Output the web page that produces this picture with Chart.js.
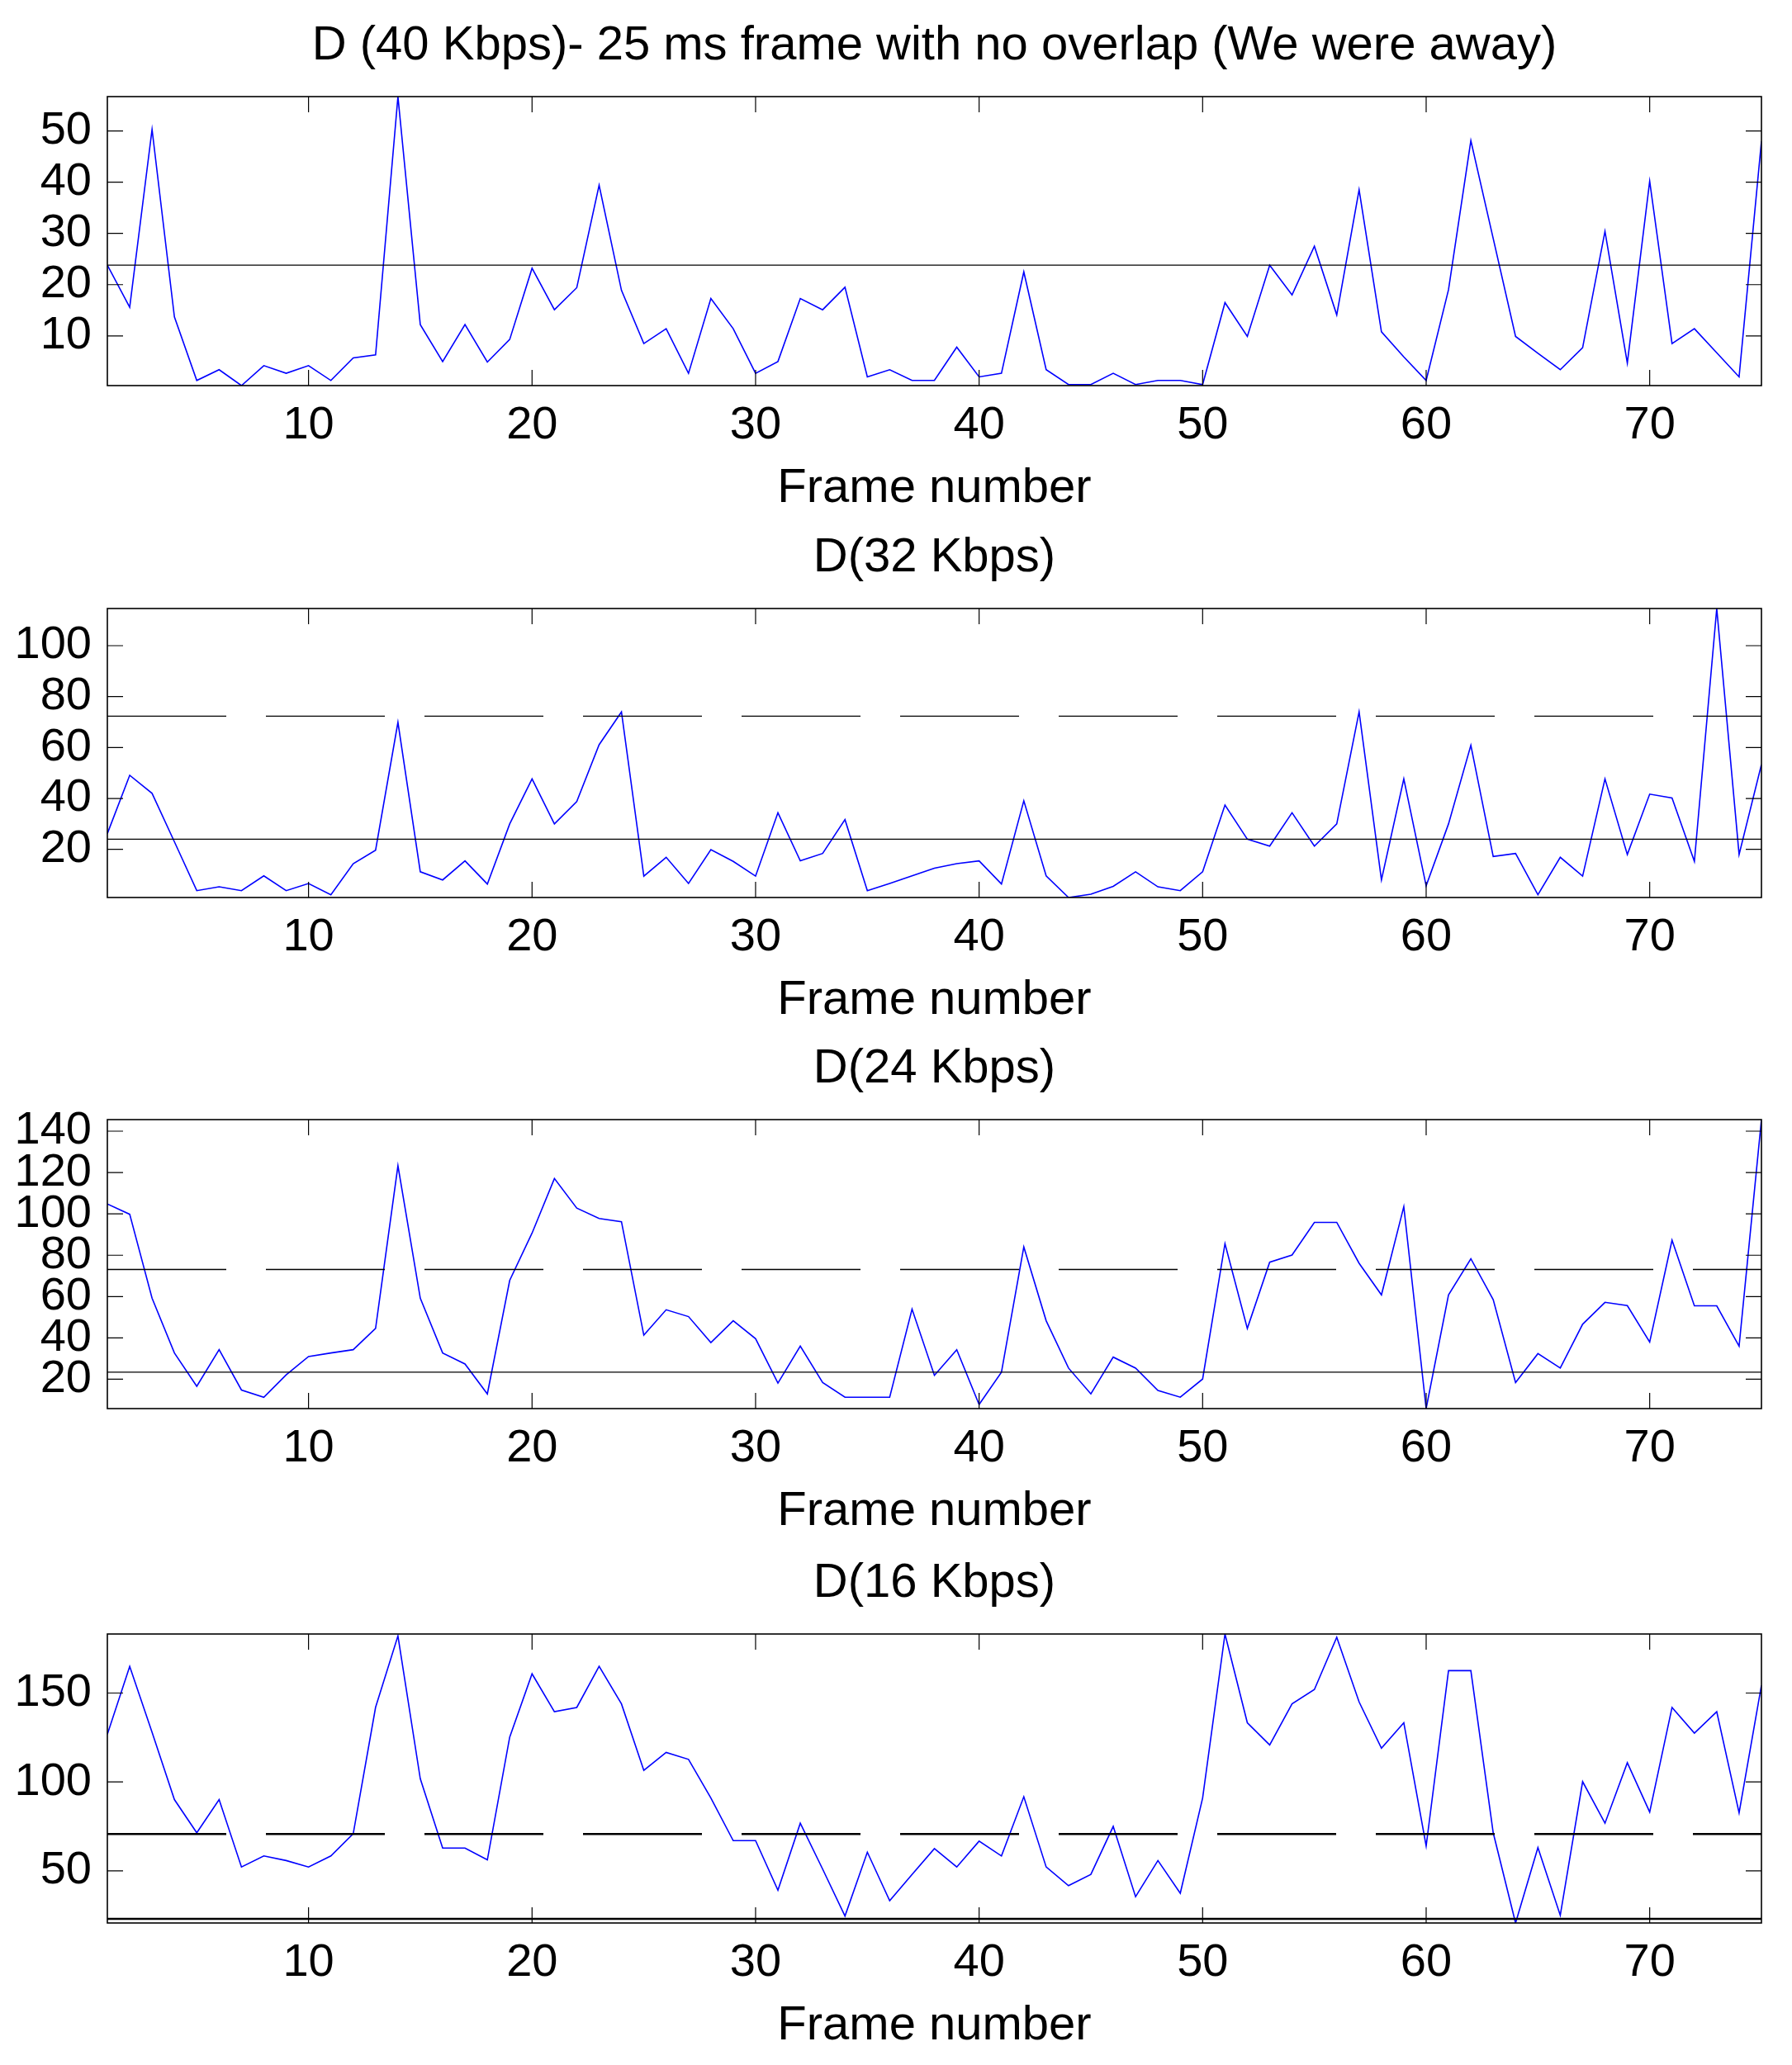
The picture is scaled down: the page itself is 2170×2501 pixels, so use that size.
<!DOCTYPE html>
<html><head><meta charset="utf-8">
<script src="https://cdn.jsdelivr.net/npm/chart.js@4"></script>
<style>
html,body{margin:0;padding:0;background:#fff;overflow:hidden;width:2170px;height:2501px;}
.panel{position:absolute;left:0;width:2170px;height:640px;}
</style></head><body>
<div class="panel" style="top:0px"><canvas id="c0" width="2170" height="640"></canvas></div>
<div class="panel" style="top:620px"><canvas id="c1" width="2170" height="640"></canvas></div>
<div class="panel" style="top:1239px"><canvas id="c2" width="2170" height="640"></canvas></div>
<div class="panel" style="top:1862px"><canvas id="c3" width="2170" height="640"></canvas></div>
<script>
const frames = [1,2,3,4,5,6,7,8,9,10,11,12,13,14,15,16,17,18,19,20,21,22,23,24,25,26,27,28,29,30,31,32,33,34,35,36,37,38,39,40,41,42,43,44,45,46,47,48,49,50,51,52,53,54,55,56,57,58,59,60,61,62,63,64,65,66,67,68,69,70,71,72,73,74,75];

const d40 = [23.8,15.6,50.3,13.7,1.3,3.4,0.3,4.2,2.7,4.2,1.3,5.7,6.3,56.7,12.2,5.0,12.2,4.9,9.3,23.2,15.1,19.4,39.4,18.9,8.5,11.4,2.7,17.3,11.4,2.7,5.0,17.3,15.1,19.5,2.0,3.4,1.3,1.3,7.8,2.0,2.7,22.5,3.4,0.5,0.5,2.7,0.5,1.3,1.3,0.5,16.5,9.9,23.8,18.0,27.5,14.1,38.5,10.8,5.9,1.3,19.0,48.1,29.0,9.9,6.6,3.4,7.7,30.4,4.7,40.2,8.5,11.4,6.7,2.0,48.0];

const d32 = [26.2,49.1,42.0,23.0,3.8,5.3,3.8,9.6,3.8,6.6,2.2,14.4,19.7,69.9,11.2,8.0,15.5,6.4,30.0,47.7,30.0,38.8,61.1,74.0,9.5,16.9,6.6,19.9,15.3,9.5,34.4,15.5,18.4,31.7,3.8,6.6,9.6,12.6,14.4,15.5,6.4,39.1,9.6,1.1,2.4,5.5,11.2,5.3,3.8,11.2,37.4,24.0,21.3,34.4,21.3,30.0,74.0,8.0,47.7,5.7,30.0,60.9,17.2,18.4,2.2,16.9,9.5,47.7,18.0,41.7,40.2,15.3,114.6,18.0,53.3];

const d24 = [104.8,99.8,59.2,32.7,16.6,34.3,14.8,11.3,22.1,31.0,32.7,34.3,44.6,123.3,59.2,32.7,27.4,12.9,67.8,90.7,117.1,102.8,97.8,96.2,41.3,53.6,50.3,37.7,48.3,39.6,18.1,36.0,18.4,11.3,11.3,11.3,53.9,21.9,34.3,7.8,23.4,84.0,48.3,25.4,12.9,30.7,25.4,14.6,11.3,20.1,85.6,44.6,76.6,80.1,95.9,95.9,76.1,60.8,103.5,5.8,60.8,78.3,58.5,18.4,32.4,25.4,46.6,57.2,55.6,38.0,87.3,55.5,55.5,36.0,145.6];

const d16 = [126.8,165.0,128.0,90.1,71.4,90.1,52.2,58.4,55.8,52.2,58.4,70.9,142.0,182.1,101.8,62.8,62.8,56.2,125.2,160.8,139.5,141.9,165.0,143.9,106.5,116.6,112.7,91.0,67.0,67.0,39.1,76.8,51.0,24.6,60.5,33.2,48.0,62.5,52.2,66.7,58.4,91.7,52.2,41.7,48.0,75.0,35.5,55.8,37.4,91.0,183.2,133.3,120.8,143.9,152.0,181.4,145.0,119.0,133.3,64.0,162.6,162.6,71.4,20.7,63.1,25.0,100.2,76.8,110.8,83.1,141.9,127.5,139.5,82.6,154.4];

const panelTitles = ['D (40 Kbps)- 25 ms frame with no overlap (We were away)','D(32 Kbps)','D(24 Kbps)','D(16 Kbps)'];
const xAxisTitle = 'Frame number';
const xTicks = [10,20,30,40,50,60,70];
const yTicks = [[10,20,30,40,50],[20,40,60,80,100],[20,40,60,80,100,120,140],[50,100,150]];
const meanLevels = [23.8,24.0,23.4,23.0];
const upperLevels = [null,72.3,73.1,70.7];
const seriesList = [d40,d32,d24,d16];

Chart.defaults.font.family = "'Liberation Sans', Arial, Helvetica, sans-serif";
Chart.defaults.color = '#000';

const boxTicks = {
  id: 'boxTicks',
  afterDraw(chart) {
    const {ctx, chartArea: a, scales: {x, y}} = chart;
    const L = 19;
    ctx.save();
    ctx.strokeStyle = '#000';
    ctx.lineWidth = 1.2;
    ctx.beginPath();
    x.ticks.forEach(t => {
      const px = x.getPixelForValue(t.value);
      ctx.moveTo(px, a.bottom); ctx.lineTo(px, a.bottom - L);
      ctx.moveTo(px, a.top); ctx.lineTo(px, a.top + L);
    });
    y.ticks.forEach(t => {
      const py = y.getPixelForValue(t.value);
      ctx.moveTo(a.left, py); ctx.lineTo(a.left + L, py);
      ctx.moveTo(a.right, py); ctx.lineTo(a.right - L, py);
    });
    ctx.stroke();
    ctx.lineWidth = 1.6;
    ctx.strokeRect(a.left, a.top, a.right - a.left, a.bottom - a.top);
    ctx.restore();
  }
};

seriesList.forEach((vals, i) => {
  const first = frames[0], last = frames[frames.length - 1];
  const datasets = [{
    data: frames.map((f, k) => ({x: f, y: vals[k]})),
    borderColor: '#0000ff', borderWidth: 1.6, pointRadius: 0, tension: 0, order: 2
  }, {
    data: [{x: first, y: meanLevels[i]}, {x: last, y: meanLevels[i]}],
    borderColor: '#000', borderWidth: i === 3 ? 2.6 : 1.3, pointRadius: 0, order: 1
  }];
  if (upperLevels[i] !== null) {
    datasets.push({
      data: [{x: first, y: upperLevels[i]}, {x: last, y: upperLevels[i]}],
      borderColor: '#000', borderWidth: i === 3 ? 2.6 : 1.3, borderDash: [144, 48], pointRadius: 0, order: 1
    });
  }
  new Chart(document.getElementById('c' + i), {
    type: 'line',
    data: {datasets},
    plugins: [boxTicks],
    options: {
      responsive: false, animation: false, devicePixelRatio: 1,
      layout: {padding: {left: 0, right: 37, top: 0, bottom: 20.7}},
      plugins: {
        legend: {display: false}, tooltip: {enabled: false},
        title: {display: true, text: panelTitles[i], color: '#000', fullSize: false,
          font: {size: 58, weight: 'normal', lineHeight: 1.2}, padding: {top: 21.2, bottom: 26.2}}
      },
      scales: {
        x: {
          type: 'linear', min: first, max: last,
          grid: {display: false, drawTicks: false}, border: {display: false},
          afterBuildTicks(s) { s.ticks = xTicks.map(v => ({value: v})); },
          ticks: {padding: 15, color: '#000',
            font: {size: 56, lineHeight: 1.2}, maxRotation: 0, autoSkip: false},
          title: {display: true, text: xAxisTitle, color: '#000',
            font: {size: 58, lineHeight: 0.95}, padding: {top: 0, bottom: 0}}
        },
        y: {
          min: Math.min(...vals), max: Math.max(...vals),
          grid: {display: false, drawTicks: false}, border: {display: false},
          afterBuildTicks(s) { s.ticks = yTicks[i].map(v => ({value: v})); },
          ticks: {padding: 19, color: '#000', font: {size: 56, lineHeight: 1.2}, autoSkip: false},
          afterFit(s) { s.width = 130; }
        }
      }
    }
  });
});
</script>
</body></html>
